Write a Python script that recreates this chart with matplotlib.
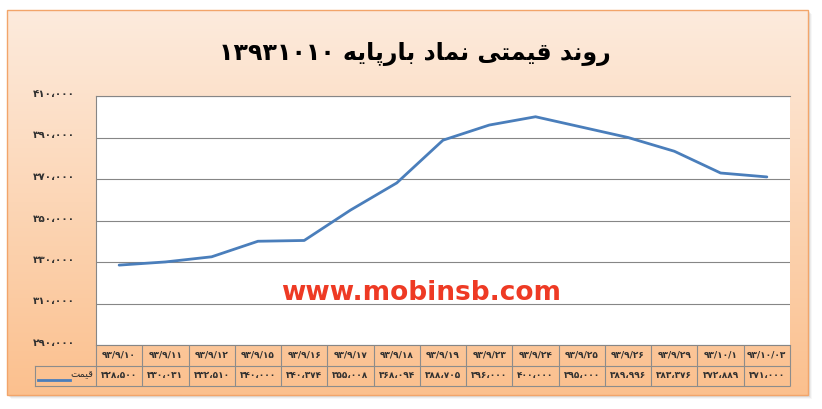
import numpy as np
import matplotlib
matplotlib.use("Agg")
import matplotlib.pyplot as plt
from matplotlib.colors import LinearSegmentedColormap
from matplotlib.patches import Rectangle
from matplotlib.transforms import blended_transform_factory, ScaledTranslation

# ---------------- data ----------------
dates = ["۹۳/۹/۱۰", "۹۳/۹/۱۱", "۹۳/۹/۱۲", "۹۳/۹/۱۵", "۹۳/۹/۱۶", "۹۳/۹/۱۷",
         "۹۳/۹/۱۸", "۹۳/۹/۱۹", "۹۳/۹/۲۳", "۹۳/۹/۲۴", "۹۳/۹/۲۵", "۹۳/۹/۲۶",
         "۹۳/۹/۲۹", "۹۳/۱۰/۱", "۹۳/۱۰/۰۳"]
prices = [328500, 330031, 332510, 340000, 340374, 355008, 368094, 388705,
          396000, 400000, 395000, 389996, 383376, 372889, 371000]
y_ticks = [290000, 310000, 330000, 350000, 370000, 390000, 410000]
title_text = "روند قیمتی نماد بارپایه ۱۳۹۳۱۰۱۰"
series_name = "قیمت"
watermark = "www.mobinsb.com"

# ---------------- simple Persian shaping ----------------
FORMS = {  # isolated, final, initial, medial
    "ا": ("\uFE8D", "\uFE8E", None, None),
    "ب": ("\uFE8F", "\uFE90", "\uFE91", "\uFE92"),
    "پ": ("\uFB56", "\uFB57", "\uFB58", "\uFB59"),
    "ت": ("\uFE95", "\uFE96", "\uFE97", "\uFE98"),
    "د": ("\uFEA9", "\uFEAA", None, None),
    "ر": ("\uFEAD", "\uFEAE", None, None),
    "ق": ("\uFED5", "\uFED6", "\uFED7", "\uFED8"),
    "م": ("\uFEE1", "\uFEE2", "\uFEE3", "\uFEE4"),
    "ن": ("\uFEE5", "\uFEE6", "\uFEE7", "\uFEE8"),
    "ه": ("\uFEE9", "\uFEEA", "\uFEEB", "\uFEEC"),
    "و": ("\uFEED", "\uFEEE", None, None),
    "ی": ("\uFEEF", "\uFEF0", "\uFEF3", "\uFEF4"),
}


def dual(c):
    return c in FORMS and FORMS[c][2] is not None


def shape_word(w):
    out = []
    for i, c in enumerate(w):
        if c not in FORMS:
            out.append(c)
            continue
        prev_join = i > 0 and dual(w[i - 1])
        next_join = dual(c) and i + 1 < len(w) and w[i + 1] in FORMS
        iso, fin, ini, med = FORMS[c]
        if prev_join and next_join:
            out.append(med)
        elif prev_join:
            out.append(fin)
        elif next_join:
            out.append(ini)
        else:
            out.append(iso)
    return "".join(reversed(out))


def fa(text):
    toks = text.split(" ")
    shaped = [t if not any(ch in FORMS for ch in t) else shape_word(t) for t in toks]
    return " ".join(reversed(shaped))


PDIG = str.maketrans("0123456789", "۰۱۲۳۴۵۶۷۸۹")


def fnum(v):
    return f"{v:,}".replace(",", "،").translate(PDIG)


# ---------------- figure ----------------
W, H = 822, 409
fig = plt.figure(figsize=(W / 100, H / 100), dpi=100)
fig.patch.set_facecolor("white")
plt.rcParams["font.family"] = ["DejaVu Sans"]

bg = fig.add_axes([0, 0, 1, 1], zorder=0)
bg.set_xlim(0, W)
bg.set_ylim(H, 0)
bg.axis("off")

fx0, fy0, fx1, fy1 = 7, 10, 808, 395
# shadow
for k, a in [(4, 0.08), (3, 0.12), (2, 0.18)]:
    bg.add_patch(Rectangle((fx0 + k, fy0 + k), fx1 - fx0, fy1 - fy0,
                           facecolor="#9a9a9a", edgecolor="none", alpha=a))
cmap = LinearSegmentedColormap.from_list("peach", ["#FDEBDD", "#FCD6B6", "#FBC08E"])
grad = np.linspace(0, 1, 256).reshape(-1, 1)
bg.imshow(grad, cmap=cmap, aspect="auto", extent=(fx0, fx1, fy1, fy0),
          origin="upper", zorder=1)
bg.add_patch(Rectangle((fx0, fy0), fx1 - fx0, fy1 - fy0, fill=False,
                       edgecolor="#F2A56A", lw=1.0, zorder=2))

bg.text(415, 54, fa(title_text), ha="center", va="center",
        fontsize=17, fontweight="bold", color="black", zorder=3)

# plot area
px0, py0, px1, py1 = 96, 96, 790, 345
ax = fig.add_axes([px0 / W, 1 - py1 / H, (px1 - px0) / W, (py1 - py0) / H], zorder=2)
ax.set_facecolor("white")
n = len(prices)
xs = np.arange(n)
ax.set_xlim(-0.5, n - 0.5)
ax.set_ylim(y_ticks[0], y_ticks[-1])
ax.set_yticks(y_ticks)
ax.set_yticklabels([fnum(v) for v in y_ticks], fontweight="bold", fontsize=7.5,
                   color="#303030")
ax.set_xticks([])
ax.tick_params(axis="y", length=0, pad=15)
up = ScaledTranslation(0, 3 / 100, fig.dpi_scale_trans)
for lbl in ax.get_yticklabels():
    lbl.set_transform(lbl.get_transform() + up)
ax.grid(axis="y", color="#868686", lw=0.8)
ax.set_axisbelow(True)
for s in ["top", "left", "bottom"]:
    ax.spines[s].set_color("#868686")
    ax.spines[s].set_linewidth(0.8)
ax.spines["right"].set_visible(False)
ax.plot(xs, prices, color="#4A7EBB", lw=2.0, solid_capstyle="round", zorder=3)

ax.text(0.468, 0.21, watermark, transform=ax.transAxes, ha="center", va="center",
        fontsize=19, fontweight="bold", color="#EE3A24", zorder=4)

# data table
tx_bottom = 386
axt = fig.add_axes([px0 / W, 1 - tx_bottom / H, (px1 - px0) / W, (tx_bottom - py1) / H],
                   zorder=2)
axt.set_xlim(-0.5, n - 0.5)
axt.set_ylim(0, 2)
axt.axis("off")
lc = "#8c8c8c"
axt.hlines([0, 1], -0.5, n - 0.5, color=lc, lw=0.8, clip_on=False)
axt.vlines(np.arange(n + 1) - 0.5, 0, 2, color=lc, lw=0.8, clip_on=False)
for i in range(n):
    axt.text(xs[i], 1.5, dates[i], ha="center", va="center", fontsize=6.5,
             fontweight="bold", color="#303030")
    axt.text(xs[i], 0.5, fnum(prices[i]), ha="center", va="center", fontsize=6.5,
             fontweight="bold", color="#303030")

bt = blended_transform_factory(bg.transData, axt.transData)
lx0 = 35
axt.plot([lx0, px0], [0, 0], color=lc, lw=0.8, transform=bt, clip_on=False)
axt.plot([lx0, px0], [1, 1], color=lc, lw=0.8, transform=bt, clip_on=False)
axt.plot([lx0, lx0], [0, 1], color=lc, lw=0.8, transform=bt, clip_on=False)
axt.plot([38, 70], [0.3, 0.3], color="#4A7EBB", lw=2.0, transform=bt, clip_on=False)
axt.text(93, 0.6, fa(series_name), ha="right", va="center", fontsize=7,
         color="#303030", transform=bt)

fig.savefig("out.png", dpi=100, facecolor="white")
